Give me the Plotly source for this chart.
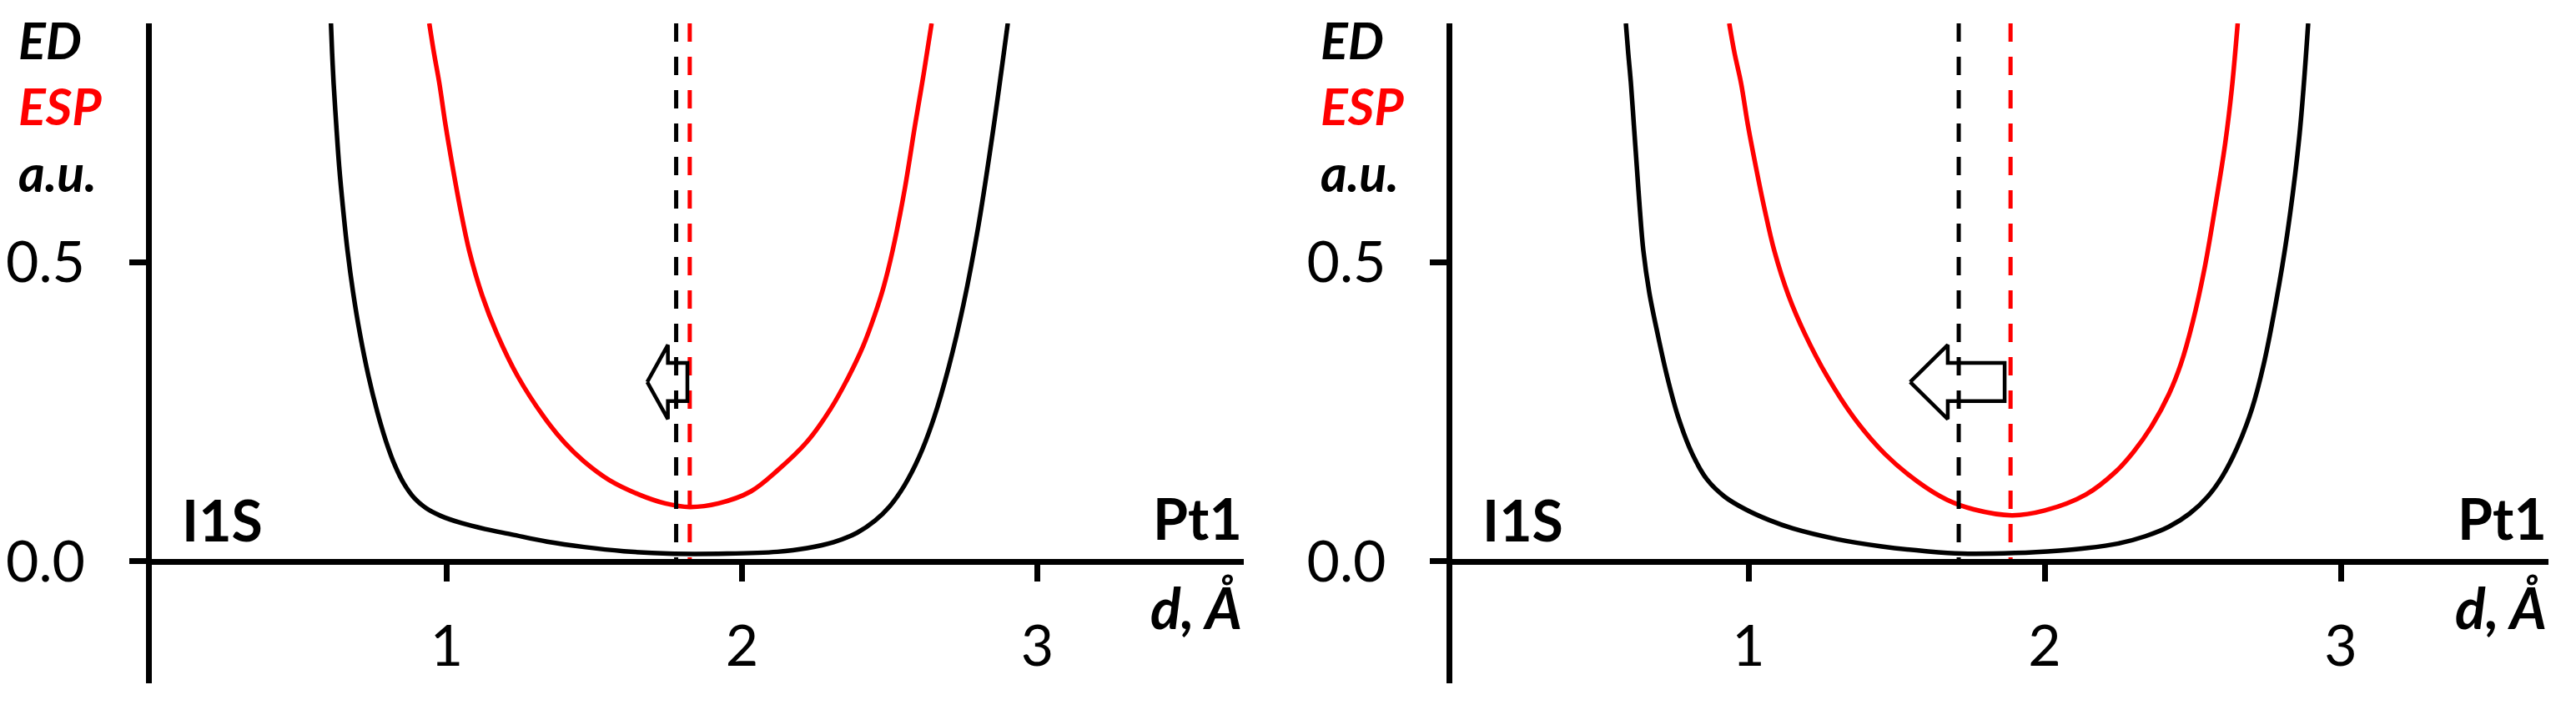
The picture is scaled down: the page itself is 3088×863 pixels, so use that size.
import plotly.graph_objects as go

# ---------------- data ----------------
# Panel 1 (left): ED (black) and ESP (red) profiles
p1_ed_x = [0.608, 0.612, 0.617, 0.626, 0.636, 0.649, 0.664, 0.683, 0.706, 0.735, 0.765, 0.795, 0.825, 0.855,
           0.89, 0.93, 0.98, 1.05, 1.13, 1.22, 1.34, 1.465, 1.60, 1.75, 1.95, 2.12, 2.22, 2.31, 2.39, 2.45,
           2.50, 2.55, 2.60, 2.65, 2.70, 2.75, 2.80, 2.85, 2.90]
p1_ed_y = [0.90, 0.85, 0.80, 0.73, 0.66, 0.59, 0.52, 0.45, 0.381, 0.31, 0.25, 0.20, 0.16, 0.13,
           0.106, 0.089, 0.076, 0.064, 0.054, 0.045, 0.033, 0.024, 0.017, 0.013, 0.013, 0.016, 0.022, 0.032, 0.048, 0.068,
           0.092, 0.127, 0.175, 0.24, 0.325, 0.43, 0.56, 0.72, 0.90]
p1_esp_x = [0.941, 0.957, 0.975, 0.996, 1.02, 1.046, 1.076, 1.12, 1.17, 1.24, 1.33, 1.40, 1.465, 1.55,
            1.65, 1.74, 1.823, 1.92, 2.03, 2.12, 2.22, 2.30, 2.36, 2.41, 2.45, 2.48, 2.51, 2.55, 2.586,
            2.615, 2.642]
p1_esp_y = [0.90, 0.85, 0.80, 0.73, 0.66, 0.59, 0.52, 0.445, 0.381, 0.31, 0.241, 0.198, 0.167, 0.136,
            0.112, 0.097, 0.091, 0.097, 0.117, 0.152, 0.20, 0.255, 0.308, 0.36, 0.413, 0.46, 0.52, 0.62, 0.73,
            0.815, 0.90]

# Panel 2 (right)
p2_ed_x = [0.586, 0.594, 0.603, 0.613, 0.623, 0.633, 0.645, 0.665, 0.693, 0.725, 0.763, 0.81, 0.86, 0.92,
           0.99, 1.07, 1.15, 1.30, 1.45, 1.60, 1.72, 1.90, 2.05, 2.14, 2.25, 2.34, 2.42, 2.49, 2.55, 2.60,
           2.65, 2.70, 2.74, 2.78, 2.82, 2.86, 2.89]
p2_ed_y = [0.90, 0.85, 0.80, 0.73, 0.66, 0.59, 0.52, 0.45, 0.381, 0.31, 0.241, 0.18, 0.137, 0.108,
           0.087, 0.069, 0.055, 0.037, 0.025, 0.017, 0.013, 0.014, 0.018, 0.022, 0.030, 0.042, 0.058, 0.080, 0.108, 0.142,
           0.19, 0.255, 0.33, 0.43, 0.55, 0.71, 0.90]
p2_esp_x = [0.935, 0.953, 0.975, 0.998, 1.025, 1.054, 1.087, 1.135, 1.19, 1.265, 1.355, 1.46, 1.572, 1.67,
            1.76, 1.89, 2.00, 2.14, 2.24, 2.30, 2.36, 2.42, 2.46, 2.50, 2.54, 2.575, 2.61, 2.632, 2.652]
p2_esp_y = [0.90, 0.85, 0.80, 0.73, 0.66, 0.59, 0.52, 0.445, 0.381, 0.31, 0.241, 0.18, 0.133, 0.103,
            0.087, 0.077, 0.085, 0.112, 0.15, 0.183, 0.225, 0.28, 0.33, 0.40, 0.49, 0.59, 0.70, 0.79, 0.90]

# minima positions (dashed lines)
ed_min_x = [1.777, 1.71]
esp_min_x = [1.823, 1.885]

# hollow arrows (tip, head base, tail) per panel
arrow_tip_x = [1.679, 1.546]
arrow_head_x = [1.749, 1.673]
arrow_tail_x = [1.815, 1.865]
arrow_y = 0.30

x_ticks = [1, 2, 3]
y_ticks = [0.0, 0.5]
y_ticktext = ["0.0", "0.5"]
x_range = [0, 3.70]
y_range = [-0.204, 0.90]

W, H = 3088, 863
M_T, M_B = 28, 44
FONT = "Lato"
RED = "#ff0000"
BLACK = "#000000"

panels = [
    dict(ed=(p1_ed_x, p1_ed_y), esp=(p1_esp_x, p1_esp_y), dom=(181.5, 181.5 + 3.70 * 354), lab=20),
    dict(ed=(p2_ed_x, p2_ed_y), esp=(p2_esp_x, p2_esp_y), dom=(1741, 1741 + 3.70 * 355), lab=1581),
]

fig = go.Figure()
plot_h = H - M_T - M_B
x0_pos = (0 - y_range[0]) / (y_range[1] - y_range[0])


def py2paper(py):
    return (H - M_B - py) / plot_h


annotations = []
for i, p in enumerate(panels):
    xa = "x" if i == 0 else "x2"
    ya = "y" if i == 0 else "y2"
    # curves
    fig.add_trace(go.Scatter(x=p["ed"][0], y=p["ed"][1], mode="lines",
                             line=dict(color=BLACK, width=5.5, shape="spline", smoothing=1.0),
                             xaxis=xa, yaxis=ya, showlegend=False, hoverinfo="skip"))
    fig.add_trace(go.Scatter(x=p["esp"][0], y=p["esp"][1], mode="lines",
                             line=dict(color=RED, width=5.5, shape="spline", smoothing=1.0),
                             xaxis=xa, yaxis=ya, showlegend=False, hoverinfo="skip"))
    # dashed minimum lines
    for xv, col in ((ed_min_x[i], BLACK), (esp_min_x[i], RED)):
        fig.add_trace(go.Scatter(x=[xv, xv], y=[y_range[1], 0], mode="lines",
                                 line=dict(color=col, width=5, dash="22px,18px"),
                                 xaxis=xa, yaxis=ya, showlegend=False, hoverinfo="skip"))
    # hollow arrow
    tip, hb, tail = arrow_tip_x[i], arrow_head_x[i], arrow_tail_x[i]
    hh, sh = 0.062, 0.032
    ax_ = [tip, hb, hb, tail, tail, hb, hb, tip]
    ay_ = [arrow_y, arrow_y + hh, arrow_y + sh, arrow_y + sh, arrow_y - sh, arrow_y - sh, arrow_y - hh, arrow_y]
    fig.add_trace(go.Scatter(x=ax_, y=ay_, mode="lines",
                             line=dict(color=BLACK, width=4.5),
                             xaxis=xa, yaxis=ya, showlegend=False, hoverinfo="skip"))

    d0, d1 = p["dom"]
    axis_common = dict(showgrid=False, zeroline=False, showline=True, linecolor=BLACK,
                       linewidth=7, ticks="outside", ticklen=20, tickwidth=7, tickcolor=BLACK,
                       tickfont=dict(family=FONT, size=68, color=BLACK))
    fig.update_layout(**{
        ("xaxis" if i == 0 else "xaxis2"): dict(
            domain=[d0 / W, d1 / W], range=x_range, anchor="free", position=x0_pos,
            tickvals=x_ticks, ticklabelstandoff=20, **axis_common),
        ("yaxis" if i == 0 else "yaxis2"): dict(
            domain=[0, 1], range=y_range, anchor=xa, tickvals=y_ticks, ticktext=y_ticktext,
            ticklabelstandoff=39, **axis_common),
    })

    # side label block: ED / ESP / a.u.
    lx = p["lab"] / W
    annotations.append(dict(text="ED<br><span style='color:#ff0000'>ESP</span><br>a.u.",
                            xref="paper", yref="paper", x=lx, y=py2paper(127),
                            xanchor="left", yanchor="middle", align="left", showarrow=False,
                            font=dict(family=FONT, size=61, color=BLACK, weight="bold", style="italic")))
    annotations.append(dict(text="I1S", xref=xa, yref=ya, x=0.097, y=0.070,
                            xanchor="left", yanchor="middle", showarrow=False,
                            font=dict(family=FONT, size=68, color=BLACK, weight="bold")))
    annotations.append(dict(text="Pt1", xref=xa, yref=ya, x=3.70, y=0.073,
                            xanchor="right", yanchor="middle", showarrow=False,
                            font=dict(family=FONT, size=68, color=BLACK, weight="bold")))
    annotations.append(dict(text="d, Å", xref=xa, yref=ya, x=3.70, y=-0.076,
                            xanchor="right", yanchor="middle", showarrow=False,
                            font=dict(family=FONT, size=68, color=BLACK, weight="bold", style="italic")))

fig.update_layout(width=W, height=H, margin=dict(l=0, r=0, t=M_T, b=M_B),
                  paper_bgcolor="white", plot_bgcolor="white",
                  annotations=annotations, showlegend=False)

fig.write_html("out.html", config={"displayModeBar": False},
               post_script="document.body.style.margin='0';document.body.style.overflow='hidden';")
